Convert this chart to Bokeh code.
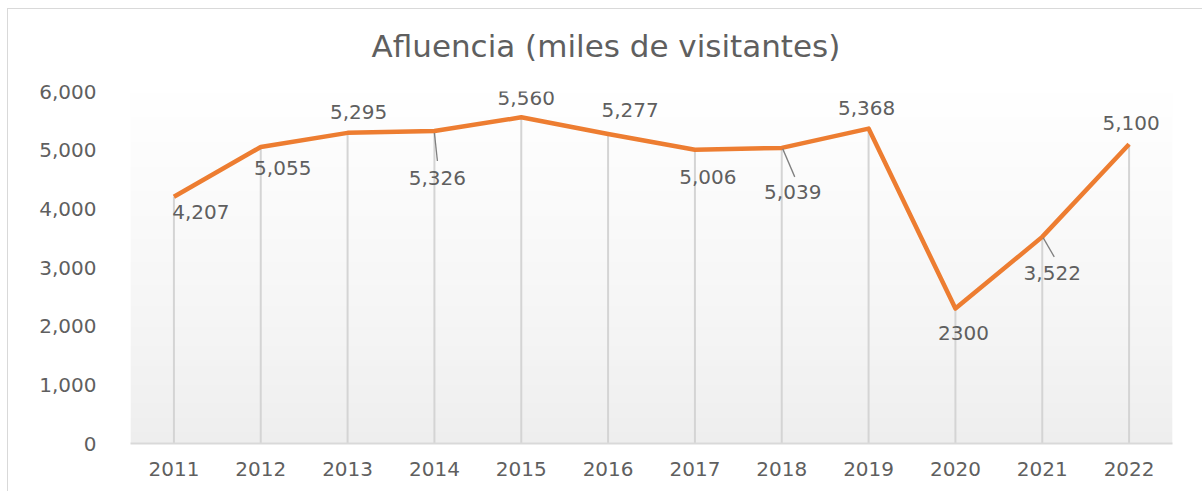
import numpy as np
from bokeh.plotting import figure
from bokeh.models import Range1d, FixedTicker, NumeralTickFormatter, ColumnDataSource, Title
from bokeh.core.properties import value
from bokeh.embed import file_html
from bokeh.resources import INLINE

years = [2011, 2012, 2013, 2014, 2015, 2016, 2017, 2018, 2019, 2020, 2021, 2022]
visitors = [4207, 5055, 5295, 5326, 5560, 5277, 5006, 5039, 5368, 2300, 3522, 5100]
labels = ["4,207", "5,055", "5,295", "5,326", "5,560", "5,277", "5,006", "5,039", "5,368", "2300", "3,522", "5,100"]
y_ticks = [0, 1000, 2000, 3000, 4000, 5000, 6000]
title_text = "Afluencia (miles de visitantes)"

# label offsets in screen pixels (style only)
lab_dx = [27, 22, 11, 3, 5, 22, 13, 11, -2, 8, 10, 2]
lab_dy = [15, 21, -21, 47, -19, -24, 27, 44, -21, 24, 36, -21]
# leader lines (pixel offsets) for a few labels
leader_idx = [3, 7, 10]
leader_px = [(0, 2, 3, 30), (1, 1, 13, 29), (1, 1, 12, 20)]

FONT = "DejaVu Sans"
GRAY = "#5f5f5f"

X0, X1 = 2010.5, 2022.5
Y0, Y1 = 0, 6000
FRAME_W = 1172 - 130
FRAME_H = 443 - 91
px_x = (X1 - X0) / FRAME_W
px_y = (Y1 - Y0) / FRAME_H

p = figure(width=1195, height=483, output_backend="svg", toolbar_location=None,
           x_range=Range1d(X0, X1), y_range=Range1d(Y0, Y1),
           min_border_left=122, min_border_right=31, min_border_top=82, min_border_bottom=49,
           margin=(8, 0, 0, 7))
p.styles = {"border-left": "1px solid #d9d9d9", "border-top": "1px solid #d9d9d9"}
p.outline_line_color = None
p.background_fill_color = "white"
p.border_fill_color = "white"
p.grid.visible = False

# gradient background of the plot area
n = 200
t = np.linspace(0, 1, n)  # 0 bottom -> 1 top
c = (238 + (255 - 238) * t ** 0.8).astype(np.uint32)
img = np.empty((n, 1), dtype=np.uint32)
view = img.view(dtype=np.uint8).reshape((n, 1, 4))
view[:, 0, 0] = c
view[:, 0, 1] = c
view[:, 0, 2] = c
view[:, 0, 3] = 255
p.image_rgba(image=[img], x=X0, y=Y0, dw=X1 - X0, dh=Y1 - Y0)

# drop lines
p.segment(x0=years, y0=[0] * len(years), x1=years, y1=visitors, line_color="#d4d4d4", line_width=2)

# main line
p.line(years, visitors, line_color="#ED7D31", line_width=4.5, line_join="round")

# leader lines
lx0 = [years[i] + leader_px[k][0] * px_x for k, i in enumerate(leader_idx)]
ly0 = [visitors[i] - leader_px[k][1] * px_y for k, i in enumerate(leader_idx)]
lx1 = [years[i] + leader_px[k][2] * px_x for k, i in enumerate(leader_idx)]
ly1 = [visitors[i] - leader_px[k][3] * px_y for k, i in enumerate(leader_idx)]
p.segment(x0=lx0, y0=ly0, x1=lx1, y1=ly1, line_color="#7f7f7f", line_width=1.3)

src = ColumnDataSource(dict(x=years, y=visitors, t=labels, dx=lab_dx, dy=lab_dy))
p.text(x="x", y="y", text="t", x_offset="dx", y_offset="dy", source=src,
       text_font=value(FONT), text_font_size="20px", text_color=GRAY,
       text_align="center", text_baseline="middle")

# axes
p.xaxis.ticker = FixedTicker(ticks=years)
p.xaxis.axis_line_color = "#d9d9d9"
p.xaxis.axis_line_width = 2
p.xaxis.major_tick_line_color = None
p.xaxis.minor_tick_line_color = None
p.xaxis.major_label_text_font = FONT
p.xaxis.major_label_text_font_size = "20px"
p.xaxis.major_label_text_color = GRAY
p.xaxis.major_label_standoff = 12

p.yaxis.ticker = FixedTicker(ticks=y_ticks)
p.yaxis.formatter = NumeralTickFormatter(format="0,0")
p.yaxis.axis_line_color = None
p.yaxis.major_tick_line_color = None
p.yaxis.minor_tick_line_color = None
p.yaxis.major_label_text_font = FONT
p.yaxis.major_label_text_font_size = "20px"
p.yaxis.major_label_text_color = GRAY
p.yaxis.major_label_standoff = 28

# spacer panel between frame and title, then the title itself further out
spacer = Title(text=" ", text_font_size="2px", standoff=24)
p.add_layout(spacer, "above")
main_title = Title(text=title_text, align="left", offset=241,
                   text_font=FONT, text_font_size="31px", text_font_style="normal",
                   text_color=GRAY, standoff=0)
p.add_layout(main_title, "above")

open("out.html", "w").write(file_html(p, INLINE))
